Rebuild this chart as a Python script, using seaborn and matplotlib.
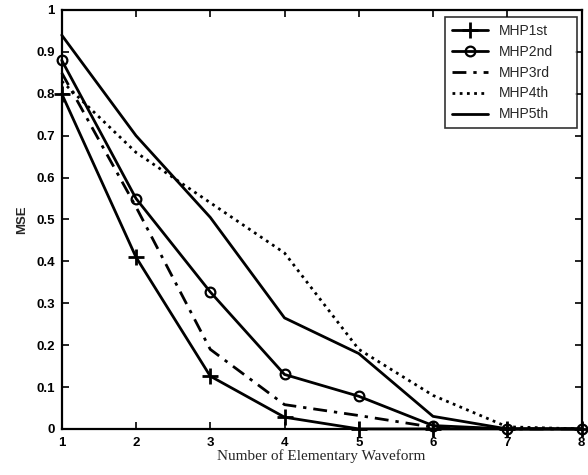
import matplotlib
matplotlib.use("Agg")
import matplotlib.pyplot as plt
import seaborn as sns

x_vals = [1, 2, 3, 4, 5, 6, 7, 8]
mhp1st = [0.80, 0.41, 0.126, 0.028, 0.0, 0.0, 0.0, 0.0]
mhp2nd = [0.88, 0.55, 0.327, 0.13, 0.078, 0.008, 0.0, 0.0]
mhp3rd = [0.85, 0.53, 0.19, 0.058, 0.032, 0.004, 0.0, 0.0]
mhp4th = [0.83, 0.66, 0.54, 0.42, 0.19, 0.08, 0.005, 0.0]
mhp5th = [0.94, 0.70, 0.505, 0.265, 0.18, 0.03, 0.0, 0.0]
labels = ["MHP1st", "MHP2nd", "MHP3rd", "MHP4th", "MHP5th"]
y_ticks = [0, 0.1, 0.2, 0.3, 0.4, 0.5, 0.6, 0.7, 0.8, 0.9, 1]
y_ticklabels = ["0", "0.1", "0.2", "0.3", "0.4", "0.5", "0.6", "0.7", "0.8", "0.9", "1"]

sns.set_theme(style="ticks")
plt.rcParams['font.family'] = ['Liberation Sans', 'DejaVu Sans']

fig = plt.figure(figsize=(5.88, 4.75), dpi=100)
ax = fig.add_axes([0.105, 0.097, 0.884, 0.882])

series = [mhp1st, mhp2nd, mhp3rd, mhp4th, mhp5th]
styles = [
    dict(ls="-", marker="+", ms=11, mew=2.0, mfc="black"),
    dict(ls="-", marker="o", ms=7, mew=1.6, mfc="none"),
    dict(ls=(0, (5, 2.5, 1.2, 2.5)), marker=""),
    dict(ls=(0, (1, 1.6)), marker=""),
    dict(ls="-", marker=""),
]
for lab, ys, st in zip(labels, series, styles):
    sns.lineplot(x=x_vals, y=ys, ax=ax, color="black", linewidth=2.0, label=lab)
    ln = ax.lines[-1]
    ln.set_linestyle(st["ls"])
    ln.set_clip_on(False)
    if st["marker"]:
        ln.set_marker(st["marker"])
        ln.set_markersize(st["ms"])
        ln.set_markeredgewidth(st["mew"])
        ln.set_markeredgecolor("black")
        ln.set_markerfacecolor(st["mfc"])

ax.set_xlim(1, 8)
ax.set_ylim(0, 1)
ax.set_xticks(x_vals)
ax.set_yticks(y_ticks)
ax.set_yticklabels(y_ticklabels)
ax.tick_params(direction="in", length=5, width=1.2, labelsize=9.5, top=True, right=True,
               colors="black")
ax.tick_params(axis="x", pad=6)
ax.tick_params(axis="y", pad=5)
for t in ax.get_xticklabels() + ax.get_yticklabels():
    t.set_fontweight("bold")
for s in ax.spines.values():
    s.set_linewidth(1.6)
    s.set_color("black")
ax.set_xlabel("Number of Elementary Waveform", family=["Liberation Serif", "DejaVu Serif"],
              fontsize=11, labelpad=0)
ax.set_ylabel("MSE", fontsize=9.5, fontweight="bold", labelpad=6)

handles, labs = ax.get_legend_handles_labels()
leg = ax.legend(handles, labs, loc="upper left", bbox_to_anchor=(0.738, 0.984, 0.254, 0),
                mode="expand", frameon=True, fancybox=False,
                prop={"family": ["Liberation Sans Narrow", "Liberation Sans"], "size": 10},
                handlelength=2.6, handletextpad=0.75, borderaxespad=0.0, borderpad=0.5,
                labelspacing=0.5, edgecolor="black")
leg.get_frame().set_linewidth(1.2)

fig.savefig("out.png", dpi=100)
